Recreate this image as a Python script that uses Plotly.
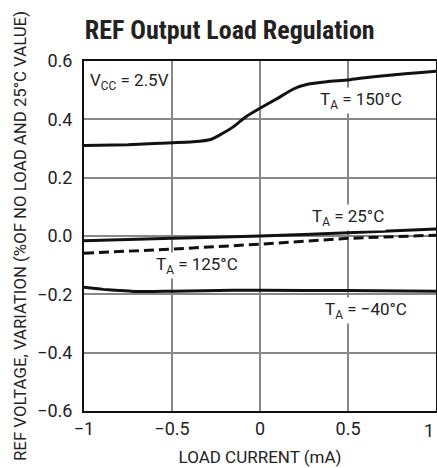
import plotly.graph_objects as go

CONDENSED = "Roboto Condensed, Liberation Sans Narrow, Arial Narrow, sans-serif"
FONT = "Roboto, Liberation Sans, Arial, sans-serif"

load_150 = [-1.0, -0.75, -0.57, -0.38, -0.28, -0.23, -0.15, -0.08, 0.0, 0.1, 0.19,
            0.27, 0.38, 0.5, 0.57, 0.75, 0.9, 1.0]
t150 = [0.310, 0.313, 0.318, 0.323, 0.331, 0.346, 0.375, 0.409, 0.438, 0.472, 0.504,
        0.520, 0.529, 0.535, 0.541, 0.552, 0.560, 0.565]

load_pts = [-1.0, -0.5, 0.0, 0.5, 1.0]
t25 = [-0.016, -0.008, 0.000, 0.011, 0.024]
t125 = [-0.059, -0.045, -0.028, -0.008, 0.003]

load_m40 = [-1.0, -0.95, -0.89, -0.8, -0.72, -0.6, -0.5, -0.15, 0.0, 0.5, 1.0]
tm40 = [-0.176, -0.179, -0.183, -0.187, -0.190, -0.190, -0.189, -0.186, -0.186, -0.187, -0.189]

x_ticks = [-1, -0.5, 0, 0.5, 1]
x_labels = ["\u22121", "\u22120.5", "0", "0.5", ""]
y_ticks = [-0.6, -0.4, -0.2, 0.0, 0.2, 0.4, 0.6]
y_labels = ["\u22120.6", "\u22120.4", "\u22120.2", "0.0", "0.2", "0.4", "0.6"]

fig = go.Figure()
line = dict(color="#111", width=3, shape="spline", smoothing=0.4)
fig.add_scatter(x=load_150, y=t150, mode="lines", line=line)
fig.add_scatter(x=load_pts, y=t25, mode="lines", line=line)
fig.add_scatter(x=load_pts, y=t125, mode="lines", line=dict(color="#111", width=3, dash="10px,5px"))
fig.add_scatter(x=load_m40, y=tm40, mode="lines", line=line)

labels = [
    ("V<sub>CC</sub> = 2.5V", -0.977, 0.531, "left"),
    ("T<sub>A</sub> = 150°C", 0.574, 0.466, "center"),
    ("T<sub>A</sub> = 25°C", 0.5, 0.065, "center"),
    ("T<sub>A</sub> = 125°C", -0.358, -0.10, "center"),
    ("T<sub>A</sub> = \u221240°C", 0.602, -0.254, "center"),
]
for text, x, y, xa in labels:
    fig.add_annotation(x=x, y=y, text=text, showarrow=False, xanchor=xa, yanchor="middle",
                       bgcolor="white", borderpad=1, font=dict(size=17, color="#222"))

# last x tick label sits flush against the right edge, as in the original sheet
fig.add_annotation(x=1, xref="x", y=-0.6, yref="y", yshift=-19, text="1", showarrow=False,
                   xanchor="right", yanchor="middle", font=dict(size=18, color="#222"))

fig.update_layout(
    width=437, height=468, showlegend=False,
    margin=dict(l=84, r=1, t=61, b=57),
    paper_bgcolor="white", plot_bgcolor="white",
    font=dict(family=FONT, color="#222", size=17),
    title=dict(text="<b>REF Output Load Regulation</b>", x=0.194, xanchor="left",
               y=0.936, yanchor="middle", font=dict(family=CONDENSED, size=26, color="#222")),
)
fig.update_xaxes(range=[-1, 1], tickvals=x_ticks, ticktext=x_labels, automargin=False,
                 showgrid=True, gridcolor="#888", gridwidth=1.5, zeroline=False,
                 showline=True, linecolor="#111", linewidth=2, mirror=True, ticks="",
                 title=dict(text="LOAD CURRENT (mA)", standoff=14, font=dict(size=17)),
                 tickfont=dict(size=18))
fig.update_yaxes(range=[-0.6, 0.6], tickvals=y_ticks, ticktext=y_labels, automargin=False,
                 showgrid=True, gridcolor="#888", gridwidth=1.5, zeroline=False,
                 showline=True, linecolor="#111", linewidth=2, mirror=True, ticks="",
                 ticklabelstandoff=6,
                 title=dict(text="REF VOLTAGE, VARIATION (%OF NO LOAD AND 25°C VALUE)",
                            standoff=6, font=dict(size=16.8)),
                 tickfont=dict(size=18))

fig.write_html("out.html", config={"displayModeBar": False},
               post_script="document.body.style.margin='0';")
